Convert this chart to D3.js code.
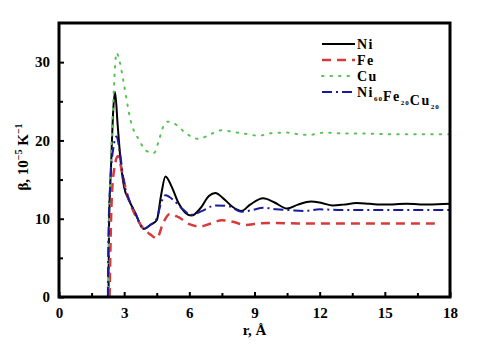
<!DOCTYPE html>
<html>
<head>
<meta charset="utf-8">
<script src="https://cdn.jsdelivr.net/npm/d3@7"></script>
<style>
  body { margin: 0; background: #fff; }
</style>
</head>
<body>
<div id="chart"></div>
<script>
// data: [r (Å), beta (1e-5 K^-1)]
const niData = [[2.28,0],[2.3,8.5],[2.4,17],[2.5,24],[2.58,26.2],[2.7,22],[2.85,17],[3.0,14],[3.2,12.5],[3.5,10.8],[3.9,8.7],[4.2,9.2],[4.5,9.8],[4.7,13],[4.9,15.4],[5.2,14],[5.5,12],[5.8,10.8],[6.1,10.4],[6.5,11.3],[6.9,12.9],[7.2,13.3],[7.6,12.5],[8.0,11.5],[8.4,11.0],[8.8,11.8],[9.4,12.6],[9.9,12.1],[10.5,11.3],[11.0,11.8],[11.6,12.2],[12.1,12.0],[12.6,11.7],[13.1,11.8],[13.7,12.0],[14.3,11.9],[15,11.8],[16,11.9],[17,11.8],[18,11.9]];
const feData = [[2.33,0],[2.36,5],[2.42,12],[2.55,16.5],[2.72,18],[2.9,16],[3.1,13.5],[3.5,10.5],[3.9,8.7],[4.2,8.0],[4.5,7.5],[4.8,9.5],[5.1,10.6],[5.5,10.2],[6.0,9.3],[6.5,9.0],[7.0,9.4],[7.5,9.8],[8.0,9.6],[8.6,9.2],[9.2,9.4],[10,9.45],[11,9.4],[12,9.4],[13,9.4],[14,9.4],[15,9.4],[16,9.4],[17.3,9.4]];
const cuData = [[2.28,0],[2.3,8],[2.4,18],[2.5,25],[2.65,31.2],[2.8,30],[3.0,27],[3.3,22.5],[3.7,20],[4.0,18.7],[4.37,18.4],[4.6,20],[4.8,21.8],[5.0,22.4],[5.4,22],[5.8,21],[6.45,20.2],[6.9,20.7],[7.5,21.3],[8.2,21.0],[8.7,20.8],[9.2,20.6],[9.7,20.9],[10.5,21.0],[11.0,20.8],[11.5,20.7],[12.2,21.0],[13,20.9],[14,20.9],[15,20.8],[16,20.8],[17,20.8],[18,20.8]];
const alloyData = [[2.25,0],[2.27,7],[2.35,14],[2.5,19],[2.65,20.5],[2.8,18.5],[3.0,14.5],[3.2,12.6],[3.5,10.8],[3.9,8.7],[4.2,9.2],[4.5,10],[4.7,12],[4.9,13.0],[5.3,12.3],[5.7,11.2],[6.1,10.5],[6.6,11.0],[7.2,11.7],[7.8,11.6],[8.4,10.9],[8.9,11.1],[9.4,11.4],[10,11.2],[10.6,11.1],[11.3,11.0],[12,11.2],[13,11.1],[14,11.1],[15,11.1],[16,11.1],[17,11.1],[18,11.1]];

const xTicks = [0, 3, 6, 9, 12, 15, 18];
const xMinor = [1.5, 4.5, 7.5, 10.5, 13.5, 16.5];
const yTicks = [0, 10, 20, 30];
const yMinor = [5, 15, 25];

const series = [
  { name: "Ni", data: niData, color: "#000", dash: null, w: 2 },
  { name: "Fe", data: feData, color: "#d63a3a", dash: "9,6", w: 2.5 },
  { name: "Cu", data: cuData, color: "#55c455", dash: "1.5,7", w: 2 },
  { name: "alloy", data: alloyData, color: "#1a1a9a", dash: "10,4,2,4", w: 2 }
];

const FONT = "Liberation Serif, Times New Roman, serif";

const margin = { top: 23, right: 35, bottom: 54, left: 59 },
    width = 485 - margin.left - margin.right,
    height = 351 - margin.top - margin.bottom;

const svg = d3.select("#chart")
    .append("svg")
    .attr("width", 485)
    .attr("height", 351)
    .append("g")
    .attr("transform", `translate(${margin.left},${margin.top})`);

const x = d3.scaleLinear().domain([0, 18]).range([0, width]);
const y = d3.scaleLinear().domain([0, 35]).range([height, 0]);

// clip so lines stay inside the frame
svg.append("clipPath").attr("id", "clip")
    .append("rect").attr("width", width).attr("height", height);

const line = d3.line()
    .x(d => x(d[0]))
    .y(d => y(d[1]))
    .curve(d3.curveMonotoneX);

svg.append("g").attr("clip-path", "url(#clip)")
    .selectAll("path")
    .data(series)
    .join("path")
    .attr("d", d => line(d.data))
    .attr("fill", "none")
    .attr("stroke", d => d.color)
    .attr("stroke-width", d => d.w)
    .attr("stroke-dasharray", d => d.dash)
    .attr("stroke-linecap", d => d.name === "Cu" ? "round" : "butt");

// axes, ticks inward
svg.append("g")
    .attr("transform", `translate(0,${height})`)
    .call(d3.axisBottom(x).tickValues(xTicks).tickSizeInner(-5).tickSizeOuter(0).tickPadding(10));
svg.append("g")
    .attr("transform", `translate(0,${height})`)
    .call(d3.axisBottom(x).tickValues(xMinor).tickSizeInner(-4).tickSizeOuter(0).tickFormat(""));
const yAxis = svg.append("g")
    .call(d3.axisLeft(y).tickValues(yTicks).tickSizeInner(-5).tickSizeOuter(0).tickPadding(8));
svg.append("g")
    .call(d3.axisLeft(y).tickValues(yMinor).tickSizeInner(-4).tickSizeOuter(0).tickFormat(""));

svg.selectAll(".domain").remove();
svg.selectAll(".tick line").attr("stroke", "#000").attr("stroke-width", 2);
svg.selectAll(".tick text")
    .attr("font-family", FONT)
    .attr("font-weight", "bold")
    .attr("font-size", 15)
    .attr("fill", "#000");
yAxis.selectAll(".tick text").attr("dx", "-1");

// frame
svg.append("rect")
    .attr("width", width)
    .attr("height", height)
    .attr("fill", "none")
    .attr("stroke", "#000")
    .attr("stroke-width", 3);

// axis titles
svg.append("text")
    .attr("x", width / 2)
    .attr("y", height + 38)
    .attr("text-anchor", "middle")
    .attr("font-family", FONT)
    .attr("font-weight", "bold")
    .attr("font-size", 15)
    .text("r, Å");

const yl = svg.append("text")
    .attr("transform", `translate(-31,${height / 2 - 3}) rotate(-90)`)
    .attr("text-anchor", "middle")
    .attr("font-family", FONT)
    .attr("font-weight", "bold")
    .attr("font-size", 15);
yl.append("tspan").text("β, 10");
yl.append("tspan").attr("dy", -6).attr("font-size", 10).text("−5");
yl.append("tspan").attr("dy", 6).text(" K");
yl.append("tspan").attr("dy", -6).attr("font-size", 10).text("−1");

// legend
const legend = svg.append("g").attr("transform", "translate(263,21)");
const rows = legend.selectAll("g")
    .data(series)
    .join("g")
    .attr("transform", (d, i) => `translate(0,${i * 16})`);
rows.append("line")
    .attr("x1", 0).attr("x2", 33)
    .attr("stroke", d => d.color)
    .attr("stroke-width", d => d.w)
    .attr("stroke-dasharray", d => d.dash)
    .attr("stroke-linecap", d => d.name === "Cu" ? "round" : "butt");
const lt = rows.append("text")
    .attr("x", 35)
    .attr("y", 5)
    .attr("font-family", FONT)
    .attr("font-weight", "bold")
    .attr("font-size", 14)
    .attr("letter-spacing", 1.5);
lt.filter(d => d.name !== "alloy").text(d => d.name);
const al = lt.filter(d => d.name === "alloy");
[["Ni", "60"], ["Fe", "20"], ["Cu", "20"]].forEach(p => {
    al.append("tspan").attr("dy", 0).text(p[0]);
    al.append("tspan").attr("dy", 4).attr("font-size", 7).attr("letter-spacing", 1).text(p[1]);
    al.append("tspan").attr("dy", -4).text("");
});
</script>
</body>
</html>
